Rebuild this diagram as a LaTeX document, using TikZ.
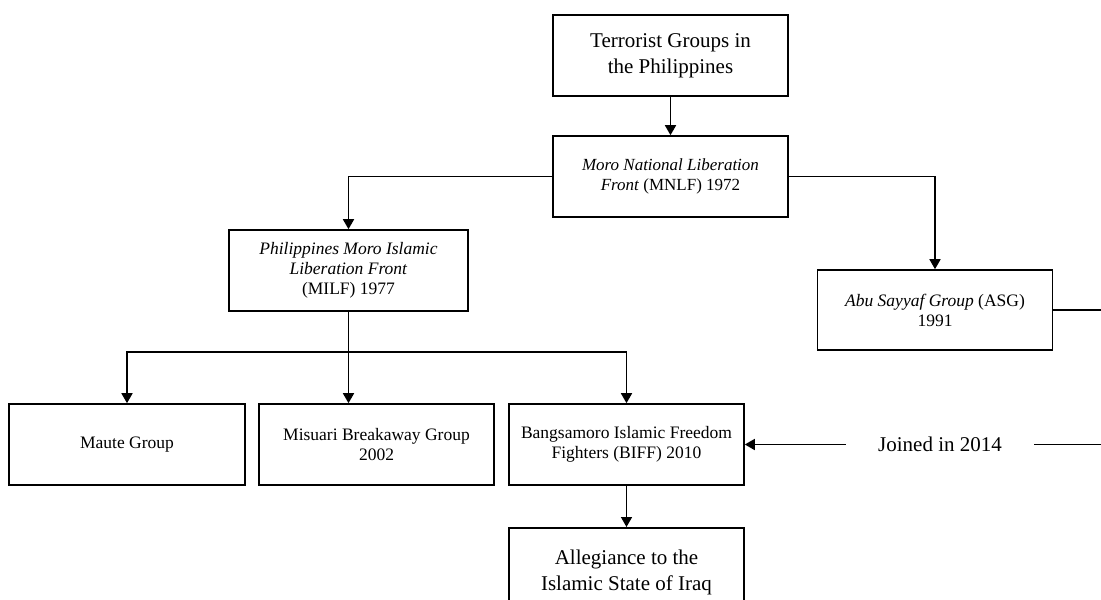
\documentclass[tikz,border=0pt]{standalone}
\usepackage{fontspec}
\setmainfont{Liberation Serif}
\usetikzlibrary{arrows.meta}
\usetikzlibrary{positioning}

\tikzset{
  orgbox/.style={draw=black, line width=1.6pt, rectangle, minimum width=235pt, minimum height=81pt, inner sep=0pt, align=center, font=\fontsize{17.5}{20}\selectfont},
  bigtext/.style={font=\fontsize{21}{26}\selectfont},
  link/.style={draw=black, line width=1.6pt},
  linkarrow/.style={link, -{Triangle[length=10pt,width=11pt]}}
}

\begin{document}
\begin{tikzpicture}[x=1pt,y=-1pt]
\useasboundingbox (0,0) rectangle (1101,600);
\clip (0,0) rectangle (1101,600);
\fill[white] (0,0) rectangle (1101,600);

\node[orgbox, bigtext] (T) at (670.5,55.5) {Terrorist Groups in\\the Philippines};
\node[orgbox, font=\fontsize{17}{20}\selectfont] (MNLF) at (670.5,176.5) {\textit{Moro National Liberation}\\\textit{Front} (MNLF) 1972};
\node[orgbox, minimum width=239pt] (MILF) at (348.5,270.5) {\textit{Philippines Moro Islamic}\\\textit{Liberation Front}\\(MILF) 1977};
\node[orgbox, minimum height=80pt] (ASG) at (935,310) {\textit{Abu Sayyaf Group} (ASG)\\1991};
\node[orgbox, minimum width=236pt] (MAUTE) at (127,444.5) {Maute Group};
\node[orgbox] (MBG) at (376.5,444.5) {Misuari Breakaway Group\\2002};
\node[orgbox] (BIFF) at (626.5,444.5) {Bangsamoro Islamic Freedom\\Fighters (BIFF) 2010};
\node[orgbox, bigtext, minimum height=90pt, anchor=north] (ISIS) at (626.5,527) {Allegiance to the\\Islamic State of Iraq};
\node[bigtext, fill=white, inner xsep=32pt, inner ysep=2pt] (JOIN) at (940,444.5) {Joined in 2014};

\draw[linkarrow] (T.south) -- (MNLF.north);
\draw[linkarrow] (MNLF.west) -| (MILF.north);
\draw[linkarrow] (MNLF.east) -| (ASG.north);

\coordinate (BUS) at (348.5,352);
\draw[link] (MILF.south) -- (BUS);
\draw[linkarrow] (BUS) -| (MAUTE.north);
\draw[linkarrow] (BUS) -- (BUS |- MBG.north);
\draw[linkarrow] (BUS) -| (BIFF.north);
\draw[linkarrow] (BIFF.south) -- (ISIS.north);

\coordinate (EDGE) at (1115,310);
\draw[link] (ASG.east) -- (EDGE) |- (JOIN.east);
\draw[linkarrow] (JOIN.west) -- (JOIN.west -| BIFF.east);

\end{tikzpicture}
\end{document}
